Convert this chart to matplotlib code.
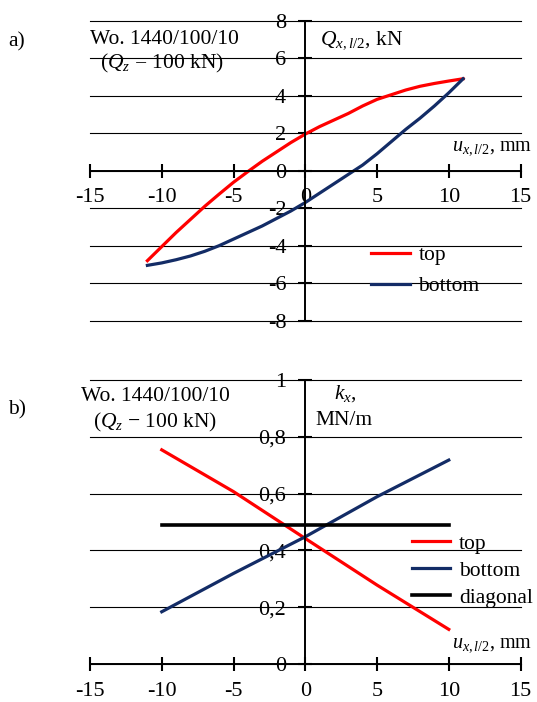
import matplotlib
matplotlib.use("Agg")
import matplotlib.pyplot as plt

plt.rcParams["font.family"] = ["Liberation Serif", "DejaVu Serif"]
plt.rcParams["mathtext.fontset"] = "custom"
plt.rcParams["mathtext.rm"] = "Liberation Serif"
plt.rcParams["mathtext.it"] = "Liberation Serif:italic"
plt.rcParams["axes.unicode_minus"] = False

# a) force-displacement loop
qx_u = [-11, -10, -9, -8, -7, -6, -5, -4, -3, -2, -1, 0,
        1, 2, 3, 4, 5, 6, 7, 8, 9, 10, 11]
qx_top = [-4.8, -4.05, -3.3, -2.6, -1.9, -1.25, -0.62, -0.05, 0.5, 1.0, 1.5, 1.95,
          2.35, 2.7, 3.05, 3.45, 3.8, 4.05, 4.3, 4.5, 4.65, 4.78, 4.9]
qx_bot = [-5.05, -4.92, -4.75, -4.55, -4.3, -4.0, -3.65, -3.3, -2.95, -2.55, -2.15, -1.7,
          -1.2, -0.7, -0.2, 0.3, 0.9, 1.55, 2.2, 2.8, 3.45, 4.15, 4.9]

# b) stiffness
kx_u = [-10, -5, 0, 5, 10]
kx_top = [0.754, 0.607, 0.442, 0.278, 0.122]
kx_bot = [0.184, 0.319, 0.448, 0.589, 0.718]
kx_diag_u = [-10, 10]
kx_diag = [0.489, 0.489]

x_ticks = [-15, -10, -5, 0, 5, 10, 15]
qx_ticks = [-8, -6, -4, -2, 0, 2, 4, 6, 8]
kx_ticks = [0, 0.2, 0.4, 0.6, 0.8, 1.0]
kx_ticklabels = ["0", "0,2", "0,4", "0,6", "0,8", "1"]

RED = "#FF0000"
NAVY = "#132C66"
FS = 15.5
TFS = 16

fig = plt.figure(figsize=(5.37, 7.02), dpi=100)
ax1 = fig.add_axes([0.1676, 0.5432, 0.8017, 0.4274])
ax2 = fig.add_axes([0.1676, 0.0541, 0.8017, 0.4046])


def style(ax):
    for s in ["top", "right"]:
        ax.spines[s].set_visible(False)
    ax.spines["left"].set_position(("data", 0))
    ax.spines["bottom"].set_position(("data", 0))
    ax.spines["left"].set_linewidth(1.4)
    ax.spines["bottom"].set_linewidth(1.4)
    ax.set_xticks(x_ticks)
    ax.set_xlim(-15, 15)
    ax.tick_params(axis="both", direction="inout", length=9.5, width=1.5,
                   labelsize=TFS)
    ax.tick_params(axis="y", pad=9)
    ax.tick_params(axis="x", pad=8)
    ax.yaxis.grid(True, color="black", linewidth=0.8)
    ax.set_axisbelow(True)
    ax.patch.set_alpha(0)


def unclip_grid(ax):
    for line in ax.get_ygridlines():
        line.set_clip_on(False)


style(ax1)
ax1.set_ylim(-8, 8)
ax1.set_yticks(qx_ticks)
unclip_grid(ax1)
ax1.plot(qx_u, qx_top, color=RED, lw=2.3, label="top")
ax1.plot(qx_u, qx_bot, color=NAVY, lw=2.3, label="bottom")
ax1.legend(loc="center left", bbox_to_anchor=(0.653, 0.166), frameon=False,
           fontsize=FS, borderpad=0, borderaxespad=0, handlelength=1.8,
           handletextpad=0.4, labelspacing=0.5)
ax1.text(-15.03, 7.0, "Wo. 1440/100/10", fontsize=FS, ha="left", va="center")
ax1.text(-14.33, 5.7, r"($\mathit{Q_z}$ = 100 kN)", fontsize=FS, ha="left", va="center")
ax1.text(1.05, 6.97, r"$Q_{x,l/2}$, kN", fontsize=FS, ha="left", va="center")
ax1.text(10.2, 1.21, r"$u_{x,l/2}$, mm", fontsize=14.5, ha="left", va="center")
fig.text(8 / 537, 1 - 42 / 702, "a)", fontsize=FS, ha="left", va="center")

style(ax2)
ax2.set_ylim(0, 1)
ax2.set_yticks(kx_ticks, labels=kx_ticklabels)
unclip_grid(ax2)
ax2.plot(kx_u, kx_top, color=RED, lw=2.3, label="top")
ax2.plot(kx_u, kx_bot, color=NAVY, lw=2.3, label="bottom")
ax2.plot(kx_diag_u, kx_diag, color="black", lw=2.6, label="diagonal")
ax2.legend(loc="center left", bbox_to_anchor=(0.747, 0.3285), frameon=False,
           fontsize=FS, borderpad=0, borderaxespad=0, handlelength=1.8,
           handletextpad=0.4, labelspacing=0.33)
ax2.text(-15.63, 0.941, "Wo. 1440/100/10", fontsize=FS, ha="left", va="center")
ax2.text(-14.77, 0.849, "($\\mathit{Q_z}$ \u2212 100 kN)", fontsize=FS, ha="left", va="center")
ax2.text(1.97, 0.954, r"$k_x$,", fontsize=FS, ha="left", va="center")
ax2.text(0.70, 0.859, "MN/m", fontsize=FS, ha="left", va="center")
ax2.text(10.2, 0.067, r"$u_{x,l/2}$, mm", fontsize=14.5, ha="left", va="center")
fig.text(8 / 537, 1 - 410 / 702, "b)", fontsize=FS, ha="left", va="center")

fig.savefig("out.png", dpi=100)
